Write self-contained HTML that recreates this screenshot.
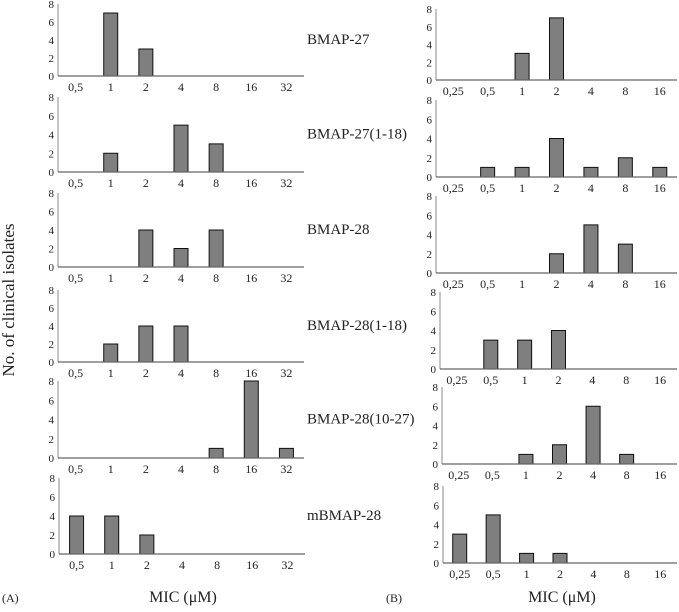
<!DOCTYPE html>
<html><head><meta charset="utf-8"><style>
body{margin:0;background:#fff;width:679px;height:607px;overflow:hidden}
svg{font-family:"Liberation Serif","Times New Roman",serif}
svg text{font-family:"Liberation Serif","Times New Roman",serif;fill:#222}
</style></head><body>
<svg id="c" width="679" height="607" font-family="Liberation Serif, serif">
<text x="14" y="300" font-size="17" transform="rotate(-90 14 300)" text-anchor="middle">No. of clinical isolates</text>
<text x="2" y="602" font-size="12">(A)</text>
<text x="386" y="602" font-size="12">(B)</text>
<text x="183" y="602" font-size="16" text-anchor="middle">MIC (μM)</text>
<text x="562" y="602" font-size="16" text-anchor="middle">MIC (μM)</text>
</svg>
<script>
const catsA = ["0,5","1","2","4","8","16","32"];
const catsB = ["0,25","0,5","1","2","4","8","16"];
const yTicks = [0,2,4,6,8];
const names = ["BMAP-27","BMAP-27(1-18)","BMAP-28","BMAP-28(1-18)","BMAP-28(10-27)","mBMAP-28"];
const valsA1 = [0,7,3,0,0,0,0];
const valsA2 = [0,2,0,5,3,0,0];
const valsA3 = [0,0,4,2,4,0,0];
const valsA4 = [0,2,4,4,0,0,0];
const valsA5 = [0,0,0,0,1,8,1];
const valsA6 = [4,4,2,0,0,0,0];
const valsB1 = [0,0,3,7,0,0,0];
const valsB2 = [0,1,1,4,1,2,1];
const valsB3 = [0,0,0,2,5,3,0];
const valsB4 = [0,3,3,4,0,0,0];
const valsB5 = [0,0,1,2,6,1,0];
const valsB6 = [3,5,1,1,0,0,0];
const seriesA = [valsA1,valsA2,valsA3,valsA4,valsA5,valsA6];
const seriesB = [valsB1,valsB2,valsB3,valsB4,valsB5,valsB6];
const NS="http://www.w3.org/2000/svg";
const svg=document.getElementById('c');
function mk(t,a,p){const e=document.createElementNS(NS,t);for(const k in a)e.setAttribute(k,a[k]);(p||svg).appendChild(e);return e;}
const layA=[{x:58,b:76,t:4},{x:58,b:172,t:97},{x:58,b:267,t:193},{x:58,b:362,t:290},{x:58,b:458,t:381},{x:59,b:554,t:478}];
const layB=[{x:436,b:80,t:9},{x:436,b:177,t:100},{x:436,b:273,t:196},{x:440,b:369,t:292},{x:442,b:464,t:387},{x:443,b:563,t:486}];
function panel(L,cats,vals,w,id,name,labelX){
  const g=mk('g',{});
  
  
  const cw=w/cats.length;
  const xs=i=>L.x+cw*(i+0.5);
  const ys=v=>L.b-(L.b-L.t)*v/8;
  const ax=mk('line',{x1:L.x,y1:L.t,x2:L.x,y2:L.b,stroke:'#888','stroke-width':1},g);
  
  yTicks.forEach(v=>{
    const t=mk('text',{x:L.x-4,y:ys(v)+4,'font-size':11,'text-anchor':'end'},g);t.textContent=v;
    
  });
  vals.forEach((v,i)=>{
    if(v>0){const r=mk('rect',{x:xs(i)-7,y:ys(v),width:14,height:L.b-ys(v),fill:'#7f7f7f',stroke:'#111','stroke-width':1},g);
    }
    const t=mk('text',{x:xs(i),y:L.b+15,'font-size':12,'text-anchor':'middle'},g);t.textContent=cats[i];
    
  });
  const bx=mk('line',{x1:L.x,y1:L.b,x2:L.x+w,y2:L.b,stroke:'#666','stroke-width':1.2},g);
  
  if(labelX){const t=mk('text',{x:labelX,y:(L.t+L.b)/2+4,'font-size':15},g);t.textContent=name;
    }
}
for(let i=0;i<6;i++){
  panel(layA[i],catsA,seriesA[i],246,'panel-a-'+(i+1),names[i],307);
  panel(layB[i],catsB,seriesB[i],677-layB[i].x,'panel-b-'+(i+1),names[i],null);
}
</script>
</body></html>
